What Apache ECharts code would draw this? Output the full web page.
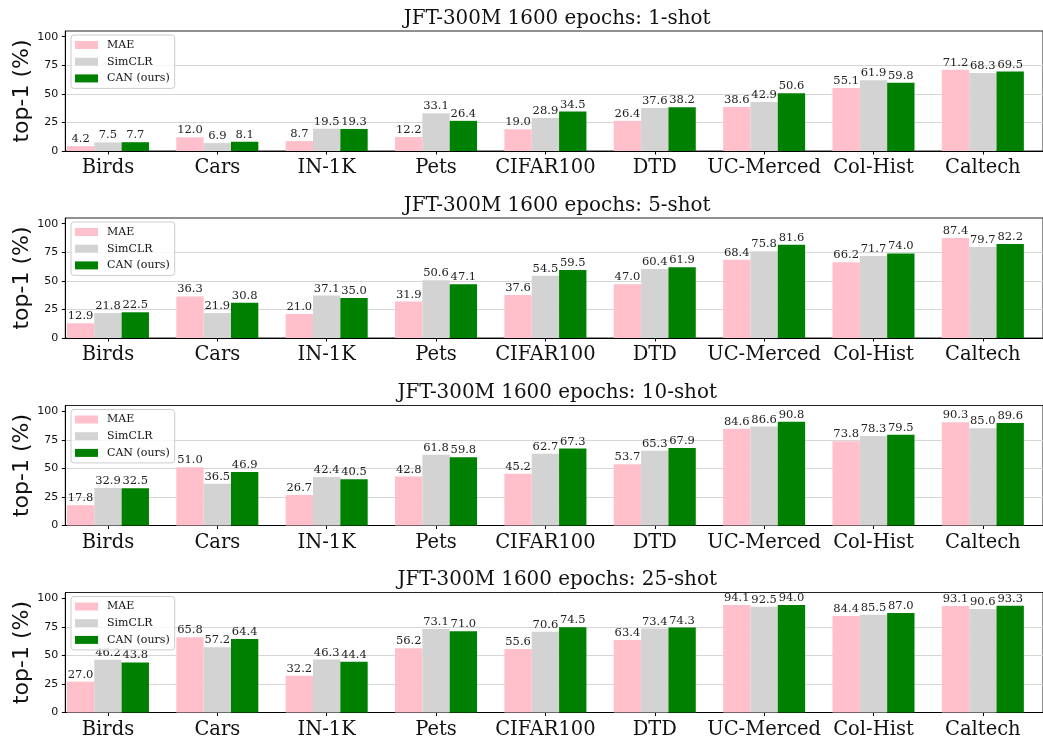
<!DOCTYPE html>
<html>
<head>
<meta charset="utf-8">
<script src="https://cdn.jsdelivr.net/npm/echarts@6/dist/echarts.min.js"></script>
<style>
  html, body { margin: 0; padding: 0; background: #fff; }
  #chart { width: 1043px; height: 742px; }
</style>
</head>
<body>
<div id="chart"></div>
<script>
// Few-shot top-1 accuracy on downstream datasets (JFT-300M, 1600 epochs)
const categories = ['Birds', 'Cars', 'IN-1K', 'Pets', 'CIFAR100', 'DTD', 'UC-Merced', 'Col-Hist', 'Caltech'];
const methods = ['MAE', 'SimCLR', 'CAN (ours)'];
const shots = ['1-shot', '5-shot', '10-shot', '25-shot'];
const yTicks = [0, 25, 50, 75, 100];

const mae1 = [4.2, 12.0, 8.7, 12.2, 19.0, 26.4, 38.6, 55.1, 71.2];
const simclr1 = [7.5, 6.9, 19.5, 33.1, 28.9, 37.6, 42.9, 61.9, 68.3];
const can1 = [7.7, 8.1, 19.3, 26.4, 34.5, 38.2, 50.6, 59.8, 69.5];

const mae5 = [12.9, 36.3, 21.0, 31.9, 37.6, 47.0, 68.4, 66.2, 87.4];
const simclr5 = [21.8, 21.9, 37.1, 50.6, 54.5, 60.4, 75.8, 71.7, 79.7];
const can5 = [22.5, 30.8, 35.0, 47.1, 59.5, 61.9, 81.6, 74.0, 82.2];

const mae10 = [17.8, 51.0, 26.7, 42.8, 45.2, 53.7, 84.6, 73.8, 90.3];
const simclr10 = [32.9, 36.5, 42.4, 61.8, 62.7, 65.3, 86.6, 78.3, 85.0];
const can10 = [32.5, 46.9, 40.5, 59.8, 67.3, 67.9, 90.8, 79.5, 89.6];

const mae25 = [27.0, 65.8, 32.2, 56.2, 55.6, 63.4, 94.1, 84.4, 93.1];
const simclr25 = [46.2, 57.2, 46.3, 73.1, 70.6, 73.4, 92.5, 85.5, 90.6];
const can25 = [43.8, 64.4, 44.4, 71.0, 74.5, 74.3, 94.0, 87.0, 93.3];

const panels = [
  [mae1, simclr1, can1],
  [mae5, simclr5, can5],
  [mae10, simclr10, can10],
  [mae25, simclr25, can25]
];

// layout of the four stacked panels
const colors = ['#ffc0cb', '#d3d3d3', '#008000'];
const SERIF = 'DejaVu Serif';
const SANS = 'DejaVu Sans';
const plotLeft = 65.3;
const plotWidth = 983.7;
const plotHeight = 120;
const panelTops = [31, 218, 405.5, 592.5];
const catIdx = categories.map((_, i) => i);

const grid = [], xAxis = [], yAxis = [], series = [], legend = [], graphics = [];

panels.forEach((vals, p) => {
  const top = panelTops[p];
  grid.push({
    left: plotLeft, top: top, width: plotWidth, height: plotHeight,
    show: true, borderColor: '#222', borderWidth: 1, backgroundColor: 'transparent'
  });
  xAxis.push({
    type: 'value', gridIndex: p, min: -0.39, max: 8.55,
    axisLine: { show: true, onZero: false, lineStyle: { color: '#000', width: 1 } },
    axisTick: { show: true, customValues: catIdx, length: 3.5, lineStyle: { color: '#000' } },
    axisLabel: {
      customValues: catIdx,
      formatter: v => categories[Math.round(v)],
      fontFamily: SERIF, fontSize: 19.5, color: '#111', margin: 7
    },
    splitLine: { show: false }
  });
  yAxis.push({
    type: 'value', gridIndex: p, min: 0, max: 105, interval: 25,
    axisLine: { show: true, onZero: false, lineStyle: { color: '#000', width: 1 } },
    axisTick: { show: true, customValues: yTicks, length: 3.5, lineStyle: { color: '#000' } },
    axisLabel: { customValues: yTicks, fontFamily: SANS, fontSize: 11, color: '#111', margin: 7 },
    splitLine: { show: true, showMinLine: false, showMaxLine: false, lineStyle: { color: '#d6d6d6', width: 1 } }
  });
  vals.forEach((arr, s) => {
    series.push({
      type: 'bar', name: methods[s], xAxisIndex: p, yAxisIndex: p,
      data: arr.map((v, i) => [i, v]),
      barGap: '0%', barCategoryGap: '25%',
      itemStyle: { color: colors[s] },
      label: {
        show: true, position: 'top', distance: 1,
        formatter: prm => prm.value[1].toFixed(1),
        fontFamily: SERIF, fontSize: 11.5, color: '#222'
      },
      emphasis: { disabled: true },
      animation: false
    });
  });
  legend.push({
    data: methods, orient: 'vertical', left: 71, top: top + 4,
    itemWidth: 23, itemHeight: 8, itemGap: 4.7, icon: 'rect',
    padding: [4, 5, 4, 4],
    backgroundColor: 'rgba(255,255,255,0.8)', borderColor: '#cccccc', borderWidth: 1, borderRadius: 3,
    textStyle: { fontFamily: SERIF, fontSize: 11, color: '#111', lineHeight: 12, padding: [0, 0, 0, 4] },
    selectedMode: false
  });
  graphics.push({
    type: 'text', x: plotLeft + plotWidth / 2, y: top - 12.6,
    style: { text: 'JFT-300M 1600 epochs: ' + shots[p], font: '19.9px "' + SERIF + '"', fill: '#111', align: 'center', verticalAlign: 'middle' }
  });
  graphics.push({
    type: 'text', x: 22.3, y: top + plotHeight / 2, rotation: Math.PI / 2,
    style: { text: 'top-1 (%)', font: '22px "' + SANS + '"', fill: '#111', align: 'center', verticalAlign: 'middle' }
  });
});

const chart = echarts.init(document.getElementById('chart'), null, { renderer: 'canvas' });
chart.setOption({
  animation: false,
  backgroundColor: '#ffffff',
  grid, xAxis, yAxis, series, legend,
  graphic: graphics
});
</script>
</body>
</html>
